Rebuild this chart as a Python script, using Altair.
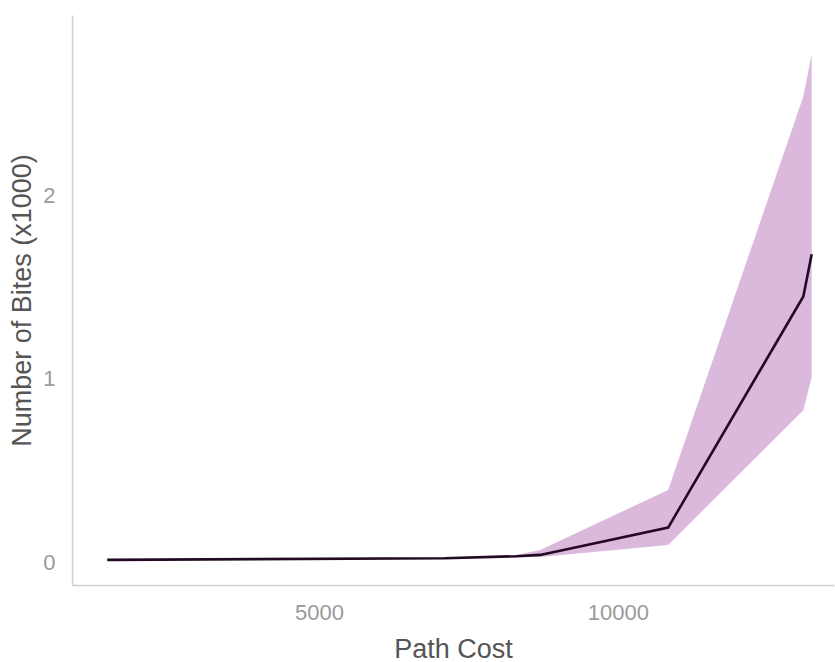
import altair as alt
import pandas as pd

# Mean number of bites (in thousands) per path cost, with its spread
path_cost = [1460, 7100, 8300, 8700, 10840, 13100, 13240]
bites_mean = [0.014, 0.023, 0.034, 0.041, 0.190, 1.450, 1.680]
bites_low = [0.014, 0.020, 0.028, 0.030, 0.095, 0.830, 1.010]
bites_high = [0.014, 0.026, 0.040, 0.068, 0.395, 2.540, 2.770]

x_ticks = [5000, 10000]
y_ticks = [0, 1, 2]

df = pd.DataFrame({
    "cost": path_cost,
    "mean": bites_mean,
    "low": bites_low,
    "high": bites_high,
})

x_scale = alt.Scale(domain=[871, 13613], nice=False, zero=False)
y_scale = alt.Scale(domain=[-0.123, 2.984], nice=False, zero=False)

x_axis = alt.Axis(
    values=x_ticks, format="d", title="Path Cost", grid=False, ticks=False, tickSize=0,
    domainColor="#cfcfcf", domainWidth=1.5,
    labelColor="#9a9a9a", labelFontSize=22, labelFont="Liberation Sans",
    labelPadding=34, labelBaseline="alphabetic",
    titleColor="#555555", titleFontSize=27, titleFont="Liberation Sans",
    titleFontWeight="normal", titleBaseline="alphabetic", titleY=72,
)
y_axis = alt.Axis(
    values=y_ticks, format="d", title="Number of Bites (x1000)", grid=False,
    ticks=False, tickSize=0,
    domainColor="#cfcfcf", domainWidth=1.5,
    labelColor="#9a9a9a", labelFontSize=22, labelFont="Liberation Sans",
    labelPadding=17,
    titleColor="#555555", titleFontSize=27, titleFont="Liberation Sans",
    titleFontWeight="normal", titleBaseline="alphabetic", titleX=-42,
)

band = alt.Chart(df).mark_area(color="#dab9dd", opacity=1, clip=True).encode(
    x=alt.X("cost:Q", scale=x_scale, axis=x_axis),
    y=alt.Y("low:Q", scale=y_scale, axis=y_axis),
    y2="high:Q",
)

line = alt.Chart(df).mark_line(color="#220a22", strokeWidth=2.6, clip=True).encode(
    x=alt.X("cost:Q", scale=x_scale),
    y=alt.Y("mean:Q", scale=y_scale),
)

chart = (
    alt.layer(band, line)
    .properties(
        width=762,
        height=570,
        autosize=alt.AutoSizeParams(type="none"),
        padding={"left": 72, "top": 15, "right": 1, "bottom": 77},
    )
    .configure(background="white")
    .configure_view(stroke=None)
)

chart.save("out.html", embed_options={"renderer": "svg", "actions": False})
